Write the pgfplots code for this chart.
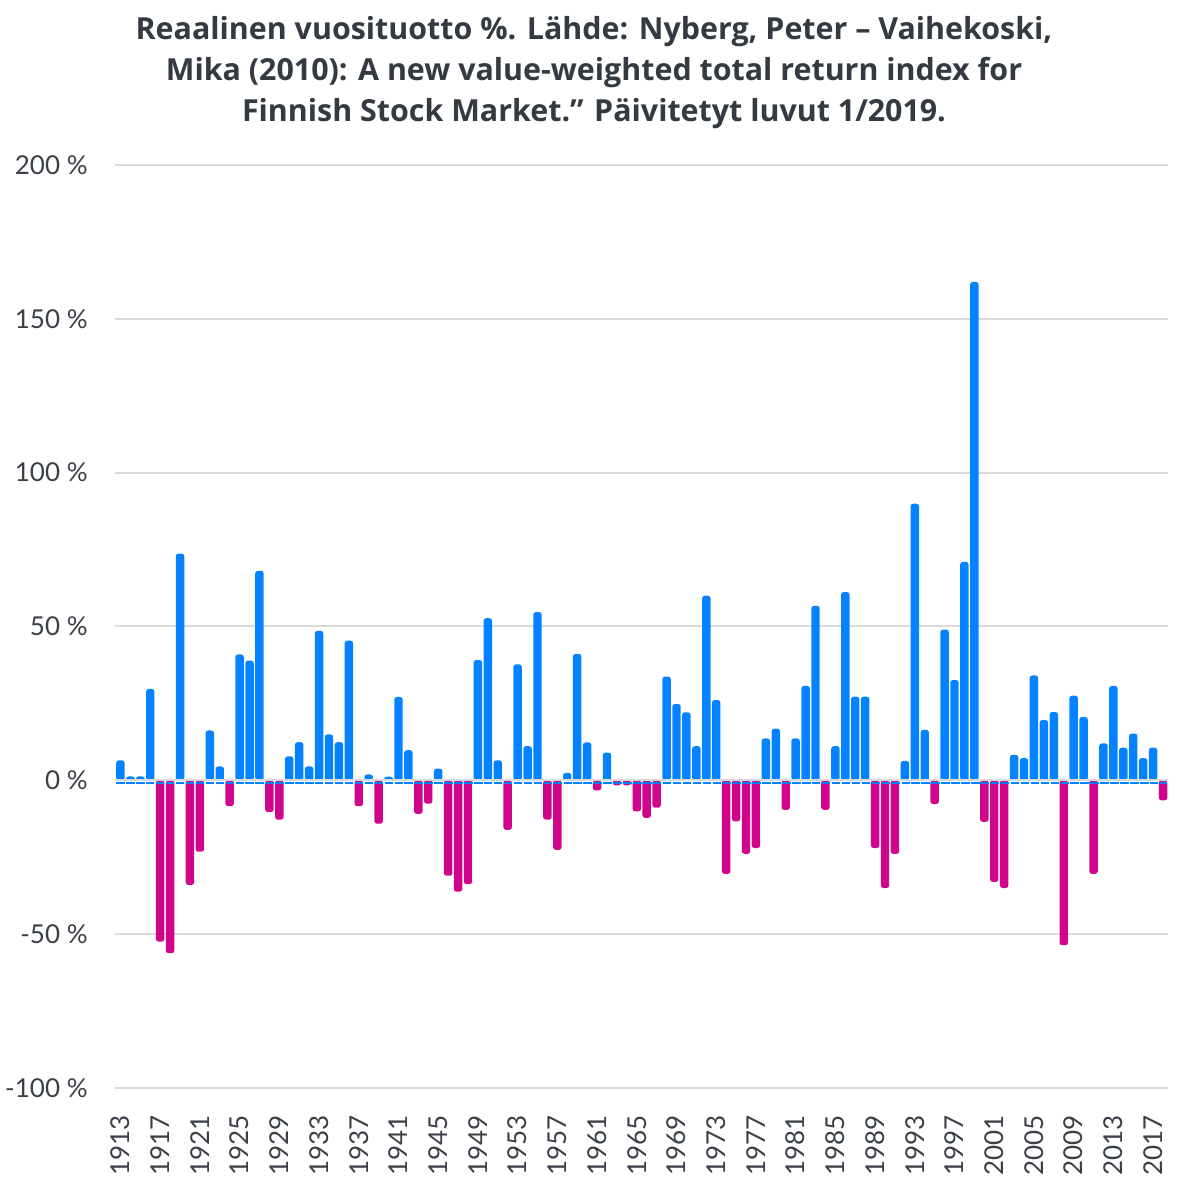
\documentclass[border=0pt]{standalone}
\usepackage{pgfplots}
\pgfplotsset{compat=1.18}
\usepackage{fontspec}
\setmainfont{Lato}
\newfontfamily\titlefont{Open Sans}
\definecolor{barblue}{HTML}{0582FF}
\definecolor{barmag}{HTML}{D1058B}
\definecolor{gridgray}{HTML}{D9D9D9}
\definecolor{titlecol}{HTML}{343A41}
\definecolor{labcol}{HTML}{3A4047}
\begin{document}
\begin{tikzpicture}
\begin{axis}[
  at={(0,0)}, anchor=south west,
  scale only axis,
  width=526.5pt, height=461.5pt,
  xmin=1912.45, xmax=2018.5,
  ymin=-100, ymax=200,
  ybar, bar width=0.85, bar shift=0pt,
  axis line style={draw=none},
  major tick length=0pt,
  ymajorgrids,
  grid style={color=gridgray, line width=1pt},
  ytick={-100,-50,0,50,100,150,200},
  yticklabels={-100 \%,-50 \%,0 \%,50 \%,100 \%,150 \%,200 \%},
  xtick={1913,1917,...,2017},
  xticklabels={1913,1917,1921,1925,1929,1933,1937,1941,1945,1949,1953,1957,1961,1965,1969,1973,1977,1981,1985,1989,1993,1997,2001,2005,2009,2013,2017},
  yticklabel style={anchor=east, inner sep=0pt, font=\fontsize{13}{15}\selectfont, text=labcol},
  xticklabel style={rotate=90, anchor=east, inner sep=0pt, font=\fontsize{13}{15}\selectfont, text=labcol},
  yticklabel shift=13.5pt,
  xticklabel shift=13.5pt,
  clip=false,
]
\addplot[fill=barblue, draw=none, rounded corners=1.3pt] coordinates {
(1913,6.5) (1914,1.3) (1915,1.3) (1916,29.7) (1919,73.7) (1922,16.2) (1923,4.5)
(1925,40.9) (1926,38.9) (1927,68.1) (1930,7.8) (1931,12.4) (1932,4.5) (1933,48.6)
(1934,14.9) (1935,12.4) (1936,45.4) (1938,1.9) (1940,1.2) (1941,27.1) (1942,9.8)
(1945,3.8) (1949,39.1) (1950,52.7) (1951,6.5) (1953,37.7) (1954,11.1) (1955,54.7)
(1958,2.4) (1959,41.1) (1960,12.3) (1962,9.0) (1968,33.7) (1969,24.8) (1970,22.1)
(1971,11.1) (1972,60) (1973,26.1) (1978,13.6) (1979,16.8) (1981,13.6) (1982,30.7)
(1983,56.7) (1985,11.1) (1986,61.2) (1987,27.2) (1988,27.2) (1992,6.3) (1993,89.9)
(1994,16.4) (1996,49) (1997,32.6) (1998,71) (1999,162) (2003,8.3) (2004,7.2)
(2005,34.1) (2006,19.6) (2007,22.2) (2009,27.5) (2010,20.6) (2012,12) (2013,30.7)
(2014,10.6) (2015,15.2) (2016,7.2) (2017,10.6)
};
\addplot[fill=barmag, draw=none, rounded corners=1.3pt] coordinates {
(1917,-52.4) (1918,-56.2) (1920,-34) (1921,-23.2) (1924,-8.4) (1928,-10.3) (1929,-12.8)
(1937,-8.4) (1939,-14.1) (1943,-10.9) (1944,-7.6) (1946,-31) (1947,-36.2) (1948,-33.7)
(1952,-16.1) (1956,-12.8) (1957,-22.6) (1961,-3.3) (1963,-1.6) (1964,-1.6) (1965,-10.1)
(1966,-12.2) (1967,-8.9) (1974,-30.4) (1975,-13.3) (1976,-23.9) (1977,-22) (1980,-9.6)
(1984,-9.6) (1989,-22) (1990,-35) (1991,-23.9) (1995,-7.7) (2000,-13.5) (2001,-33)
(2002,-35) (2008,-53.6) (2011,-30.4) (2018,-6.5)
};
\draw[barblue, line width=1pt, dash pattern=on 4.22pt off 0.75pt] (axis cs:1912.575,-0.9) -- (axis cs:2018.425,-0.9);
\draw[gridgray, line width=1pt] (axis cs:1912.45,0) -- (axis cs:2018.5,0);
\end{axis}
\begin{scope}[every node/.style={anchor=base, text=titlecol, font=\titlefont\fontsize{15.2}{17}\selectfont\bfseries, inner sep=0pt}]
\node at (239.5pt,524pt) {Reaalinen vuosituotto \%. Lähde: Nyberg, Peter – Vaihekoski,};
\node at (239.5pt,503.5pt) {Mika (2010): A new value-weighted total return index for};
\node at (239.5pt,483pt) {Finnish Stock Market.” Päivitetyt luvut 1/2019.};
\end{scope}
\path[use as bounding box] (-57.5pt,-54pt) rectangle (536.5pt,544pt);
\end{tikzpicture}
\end{document}
